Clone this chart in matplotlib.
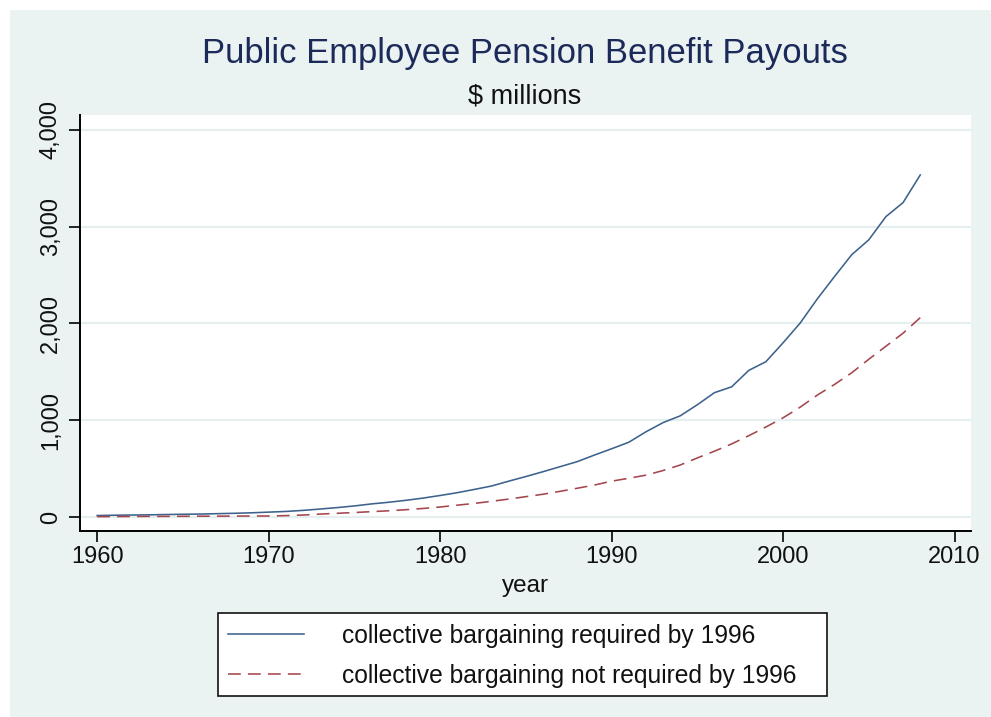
import matplotlib
matplotlib.use("Agg")
import matplotlib.pyplot as plt
from matplotlib.patches import Rectangle
from matplotlib.ticker import FuncFormatter

years = list(range(1960, 2009))
required = [15, 18, 20, 22, 25, 28, 30, 34, 38, 43,
            50, 57, 68, 82, 97, 114, 135, 152, 172, 195,
            222, 251, 285, 320, 370, 418, 468, 520, 572, 640,
            705, 772, 880, 975, 1045, 1160, 1285, 1345, 1515, 1605,
            1800, 2005, 2255, 2485, 2710, 2865, 3105, 3250, 3535]
not_required = [3, 4, 5, 6, 6, 7, 8, 8, 9, 10,
                10, 14, 20, 30, 38, 46, 55, 64, 75, 88,
                103, 122, 140, 162, 185, 210, 235, 265, 297, 330,
                370, 400, 432, 480, 537, 610, 680, 755, 840, 930,
                1025, 1135, 1260, 1370, 1490, 1630, 1765, 1900, 2060]

title = "Public Employee Pension Benefit Payouts"
subtitle = "$ millions"
xlabel = "year"
labels = ["collective bargaining required by 1996",
          "collective bargaining not required by 1996"]
xticks = [1960, 1970, 1980, 1990, 2000, 2010]
yticks = [0, 1000, 2000, 3000, 4000]

plt.rcParams['font.family'] = ['Liberation Sans', 'DejaVu Sans']

W, H = 991, 717
fig = plt.figure(figsize=(W / 100, H / 100), dpi=100, facecolor='white')
bg = '#EAF2F2'
fig.patches.append(Rectangle((10 / W, 0), 1 - 10 / W, 1 - 10 / H,
                             transform=fig.transFigure, facecolor=bg,
                             edgecolor='none', zorder=-10))

ax = fig.add_axes([80 / W, 1 - 531 / H, (971 - 80) / W, (531 - 115) / H])
ax.set_facecolor('white')

blue = '#3d628c'
red = '#a5464e'
ax.plot(years, required, color=blue, lw=1.15, label=labels[0], zorder=3)
ax.plot(years, not_required, color=red, lw=1.15, ls=(0, (8, 4.5)),
        label=labels[1], zorder=3)

ax.set_xlim(1959.0, 2010.96)
ax.set_ylim(-145, 4155)
ax.set_xticks(xticks)
ax.set_yticks(yticks)
ax.yaxis.set_major_formatter(FuncFormatter(lambda v, p: f"{int(v):,}"))
ax.tick_params(axis='both', length=8, width=1.2, color='black',
               labelsize=17, labelcolor='#111111')
ax.tick_params(axis='x', pad=3)
ax.tick_params(axis='y', pad=5)
for lab in ax.get_yticklabels():
    lab.set_rotation(90)
    lab.set_va('center')
ax.grid(axis='y', color='#E6EFEF', lw=1.6, zorder=0)
ax.set_axisbelow(True)
for s in ['top', 'right']:
    ax.spines[s].set_visible(False)
for s in ['left', 'bottom']:
    ax.spines[s].set_linewidth(1.4)
    ax.spines[s].set_color('black')

ax.set_xlabel(xlabel, fontsize=17.5, color='#111111', labelpad=5)

fig.text(525 / W, 1 - 53 / H, title, ha='center', va='center',
         fontsize=24.9, color='#1c2a5a')
fig.text(525 / W, 1 - 96 / H, subtitle, ha='center', va='center',
         fontsize=19.5, color='#111111')

# legend frame
fig.patches.append(Rectangle((218 / W, 1 - 696 / H), (827 - 218) / W,
                             (696 - 613) / H, transform=fig.transFigure,
                             facecolor='white', edgecolor='#111111',
                             lw=1.2, zorder=1))
leg = fig.legend(loc='upper left', bbox_to_anchor=(228 / W, 1 - 624 / H),
                 ncol=1, frameon=False, fontsize=17.7,
                 handlelength=3.1, handletextpad=1.55, borderpad=0,
                 borderaxespad=0, labelspacing=0.64)
leg.set_zorder(2)
for t in leg.get_texts():
    t.set_color('#111111')

fig.savefig('out.png', dpi=100, facecolor='white')
